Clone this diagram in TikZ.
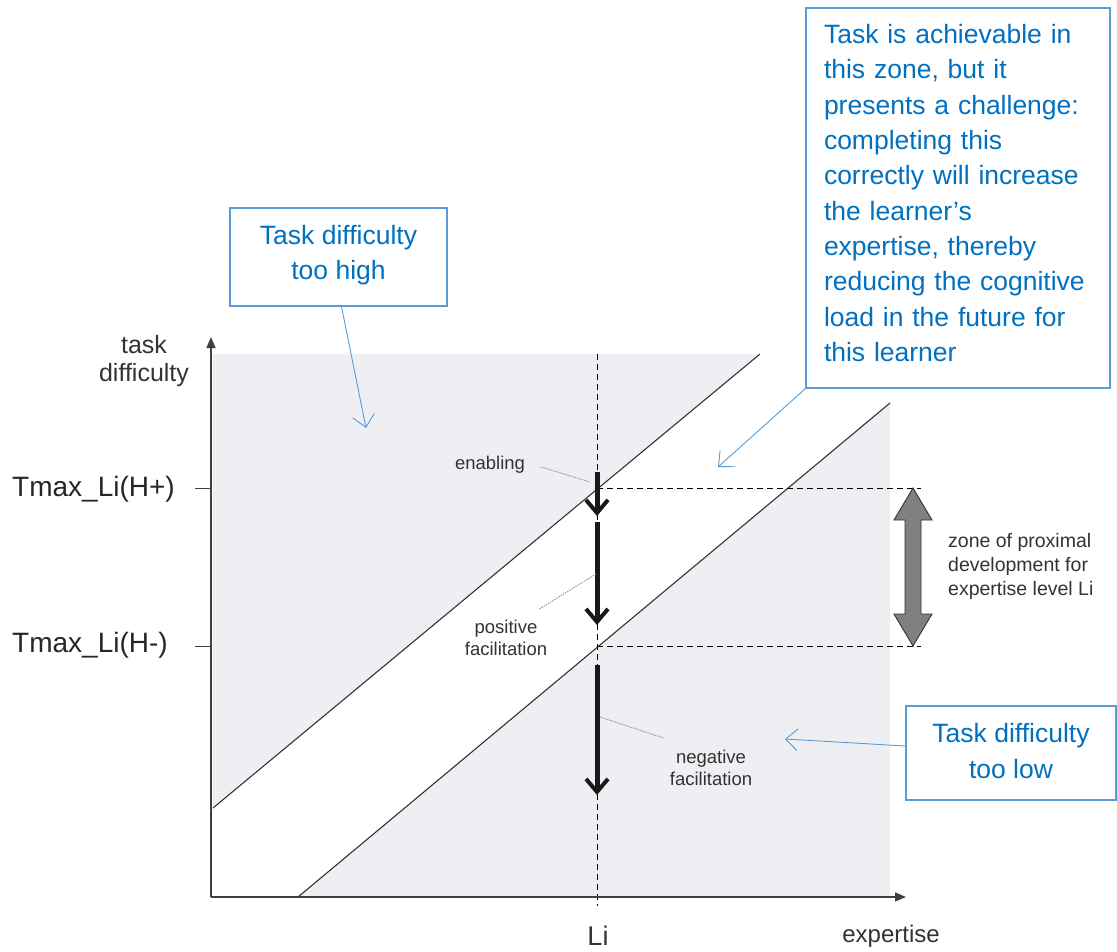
\documentclass[tikz,border=0pt]{standalone}
\usepackage{fontspec}
\setmainfont{Liberation Sans}
\usetikzlibrary{arrows.meta,calc}

\definecolor{zonegray}{RGB}{239,239,243}
\definecolor{calloutblue}{RGB}{0,112,192}
\definecolor{calloutedge}{RGB}{91,155,213}
\definecolor{inkgray}{RGB}{51,51,51}
\definecolor{leadergray}{RGB}{150,150,150}

\tikzset{
  callout/.style={draw=calloutedge, line width=1.3pt, fill=white, inner sep=0pt},
  callouttext/.style={text=calloutblue, font=\fontsize{26.5}{35.3}\selectfont,
    align=center, inner sep=0pt},
  callarrow/.style={draw=calloutedge, line width=0.9pt,
    -{Straight Barb[length=12pt,width=22pt,line width=0.9pt]}},
  axisline/.style={draw=black!75, line width=1.4pt, -{Triangle[length=11pt,width=9pt]}},
  diagline/.style={draw=black!80, line width=1.1pt},
  guideline/.style={draw=black, line width=0.9pt, dash pattern=on 6pt off 4pt},
  facarrow/.style={draw=black!90, line width=5pt,
    -{Straight Barb[length=13pt,width=22pt,line width=4pt]}},
  leader/.style={draw=leadergray, line width=0.9pt, dash pattern=on 1.5pt off 1pt},
  smalllabel/.style={text=inkgray, font=\fontsize{18.5}{22}\selectfont, align=center, inner sep=0pt},
  axislabel/.style={text=inkgray, font=\fontsize{24}{28}\selectfont, align=center, inner sep=0pt},
  ticklabel/.style={text=black!85, font=\fontsize{28}{30}\selectfont, inner sep=0pt, anchor=east},
}

\begin{document}
\begin{tikzpicture}[x=1pt,y=-1pt]
\useasboundingbox (0,0) rectangle (1117,951);

% shaded zones outside the band, then the white band between the two lines
\fill[zonegray] (213,354) rectangle (890,897);
\fill[white] (213,808) -- (760,354) -- (890,354) -- (890,403) -- (298,897) -- (213,897) -- cycle;
\draw[diagline] (213,808) -- (760,354);
\draw[diagline] (298,897) -- (890,403);

% expertise level Li and the two difficulty limits
\coordinate (litop) at (597,354);
\coordinate (libot) at (597,906);
\draw[guideline] (litop) -- (libot);
\coordinate (hpl) at (597,488);
\coordinate (hpr) at (921,488);
\coordinate (hml) at (597,646);
\coordinate (hmr) at (921,646);
\draw[guideline] (hpl) -- (hpr);
\draw[guideline] (hml) -- (hmr);

% axes
\coordinate (origin) at (211,897);
\coordinate (ytip) at (211,337);
\coordinate (xtip) at (906,897);
\draw[axisline] (origin) -- (ytip);
\draw[axisline] (origin) -- (xtip);

% ticks and their labels
\node[ticklabel] (tplus) at (175,489) {Tmax\_Li(H+)};
\node[ticklabel] (tminus) at (168,645) {Tmax\_Li(H-)};
\coordinate (tp0) at (195,488);
\coordinate (tp1) at (211,488);
\coordinate (tm0) at (195,646);
\coordinate (tm1) at (211,646);
\draw[black!75, line width=1pt] (tp0) -- (tp1);
\draw[black!75, line width=1pt] (tm0) -- (tm1);

\node[axislabel, font=\fontsize{25}{28}\selectfont] (ylab) at (144,361) {task\\difficulty};
\node[axislabel, font=\fontsize{27}{30}\selectfont] (lilab) at (598,936) {Li};
\node[axislabel] (xlab) at (891,936) {expertise};

% facilitation arrows along Li
\coordinate (a1s) at (597,472);
\coordinate (a1e) at (597,516);
\coordinate (a2s) at (597,522);
\coordinate (a2e) at (597,625);
\coordinate (a3s) at (597,665);
\coordinate (a3e) at (597,795);
\draw[facarrow] (a1s) -- (a1e);
\draw[facarrow] (a2s) -- (a2e);
\draw[facarrow] (a3s) -- (a3e);

\node[smalllabel] (enab) at (490,465) {enabling};
\node[smalllabel] (posf) at (506,638) {positive\\facilitation};
\node[smalllabel] (negf) at (711,768) {negative\\facilitation};
\coordinate (enabpt) at (590,482);
\coordinate (posfpt) at (596,574);
\coordinate (negfpt) at (600,717);
\draw[leader] ($(enab.east)+(16,2)$) -- (enabpt);
\draw[leader] ($(posf.north east)+(-8,-11)$) -- (posfpt);
\draw[leader] (negfpt) -- ($(negf.north west)+(-6,-12)$);

% zone of proximal development
\draw[fill=black!50, draw=black!80, line width=0.9pt]
  (913,488) -- (932,520) -- (921,520) -- (921,614) -- (932,614) -- (913,646)
  -- (894,614) -- (905,614) -- (905,520) -- (894,520) -- cycle;
\node[smalllabel, align=left, anchor=west, font=\fontsize{19.5}{24}\selectfont] (zpd) at (948,566)
  {zone of proximal\\development for\\expertise level Li};

% callouts: frame, then its text
\node[callout, minimum width=217pt, minimum height=98pt] (high) at (338.5,257) {};
\node[callouttext] (hightext) at (338.5,255) {Task difficulty\\too high};
\node[callout, minimum width=304pt, minimum height=380pt] (mid) at (958,198) {};
\node[callouttext, text width=268pt, align=left] (midtext) at (958,193)
  {Task is achievable in\\this zone, but it\\presents a challenge:\\completing this\\correctly will increase\\the learner’s\\expertise, thereby\\reducing the cognitive\\load in the future for\\this learner};
\node[callout, minimum width=210pt, minimum height=94pt] (low) at (1011,753) {};
\node[callouttext] (lowtext) at (1011,751) {Task difficulty\\too low};

\coordinate (hightgt) at (366,428);
\coordinate (midtgt) at (718,467);
\coordinate (lowtgt) at (785,739);
\draw[callarrow] ([xshift=3pt]high.south) -- (hightgt);
\draw[callarrow] (mid.south west) -- (midtgt);
\draw[callarrow] ([yshift=7pt]low.west) -- (lowtgt);
\end{tikzpicture}
\end{document}
